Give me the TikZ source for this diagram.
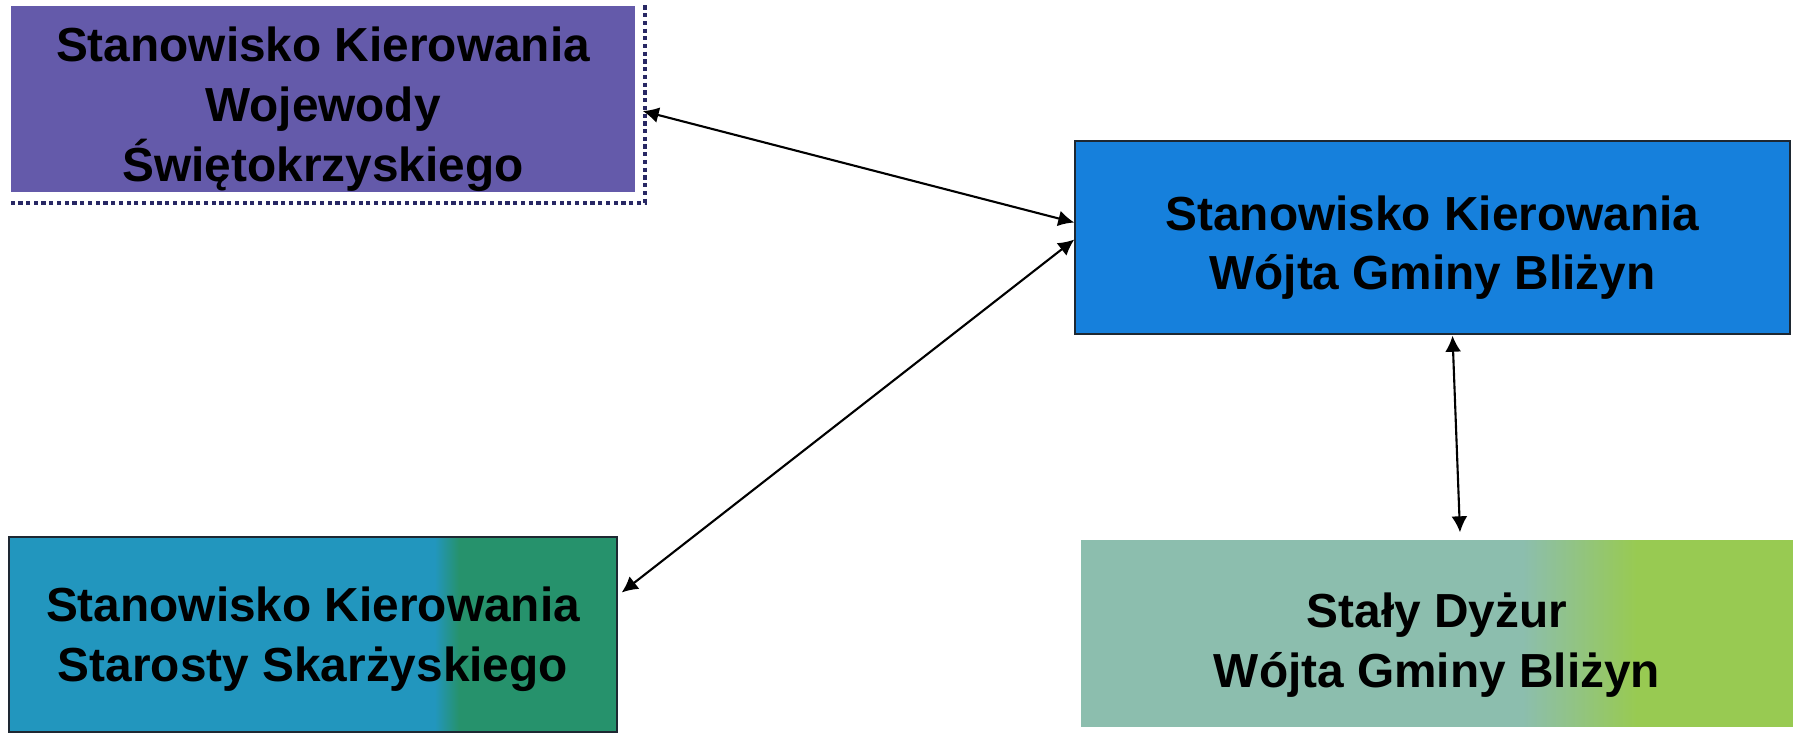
\documentclass[tikz,border=0pt]{standalone}
\usepackage{fontspec}
\setmainfont{Liberation Sans}
\usepackage{tikz}
\usetikzlibrary{arrows.meta,positioning,calc}
\definecolor{wojpurple}{RGB}{100,90,170}
\definecolor{wojtblue}{RGB}{22,128,220}
\definecolor{starblue}{RGB}{34,150,190}
\definecolor{stargreen}{RGB}{38,146,108}
\definecolor{dyzgrey}{RGB}{140,190,174}
\definecolor{dyzgreen}{RGB}{152,202,82}
\definecolor{framenavy}{RGB}{40,40,100}
\definecolor{edgedark}{RGB}{30,40,50}
\pgfdeclarehorizontalshading{starshade}{100bp}{color(0bp)=(starblue);color(60bp)=(starblue);color(62bp)=(stargreen);color(100bp)=(stargreen)}
\pgfdeclarehorizontalshading{dyzshade}{100bp}{color(0bp)=(dyzgrey);color(56bp)=(dyzgrey);color(64bp)=(dyzgreen);color(100bp)=(dyzgreen)}

\begin{document}
\begin{tikzpicture}[
  font=\bfseries\fontsize{13.6pt}{17pt}\selectfont,
  box/.style={inner sep=0pt},
  txt/.style={align=center, inner sep=0pt},
  link/.style={{Latex[length=0.16cm,width=0.16cm]}-{Latex[length=0.16cm,width=0.16cm]}, line width=0.6pt}
]
\useasboundingbox (0,0) rectangle (17.93,-7.32);
% boxes
\node[box, fill=wojpurple, minimum width=6.24cm, minimum height=1.86cm] (woj) at (3.23,-0.99) {};
\draw[framenavy, line width=1.2pt, densely dotted] (woj.north east) ++(0.09,0) |- ($(woj.south west)+(-0.02,-0.1)$);
\node[txt] (wojtxt) at ($(woj.center)+(0,-0.1)$) {Stanowisko Kierowania\\Wojewody\\Świętokrzyskiego};
\node[box, fill=wojtblue, draw=edgedark, minimum width=7.15cm, minimum height=1.93cm] (wojt) at (14.325,-2.375) {};
\node[txt] (wojttxt) at ($(wojt.center)+(0,-0.1)$) {Stanowisko Kierowania\\Wójta Gminy Bliżyn};
\node[box, shading=starshade, draw=edgedark, minimum width=6.08cm, minimum height=1.95cm] (star) at (3.13,-6.345) {};
\node[txt] (startxt) at ($(star.center)+(0,-0.05)$) {Stanowisko Kierowania\\Starosty Skarżyskiego};
\node[box, shading=dyzshade, minimum width=7.12cm, minimum height=1.86cm] (dyz) at (14.37,-6.33) {};
\node[txt] (dyztxt) at ($(dyz.center)+(0,-0.12)$) {Stały Dyżur\\Wójta Gminy Bliżyn};
% links
\draw[link] ($(woj.east)+(0.07,-0.12)$) -- ($(wojt.west)+(0,0.15)$);
\draw[link] ($(star.east)+(0.04,0.42)$) -- ($(wojt.west)+(0,-0.02)$);
\draw[link] ($(wojt.south)+(0.2,-0.01)$) -- ($(dyz.north)+(0.23,0.07)$);
\end{tikzpicture}
\end{document}
